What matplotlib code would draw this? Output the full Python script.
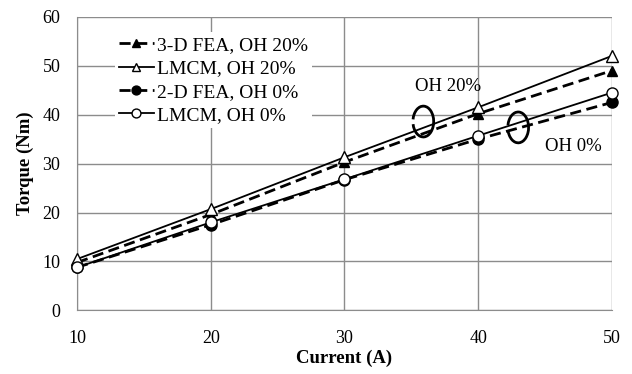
import numpy as np
import matplotlib.pyplot as plt
from matplotlib.patches import Arc

plt.rcParams['font.family'] = ['Liberation Serif', 'DejaVu Serif']

current = [10, 20, 30, 40, 50]
fea3d_oh20 = [9.8, 19.6, 30.3, 40.2, 49.0]
lmcm_oh20 = [10.5, 20.7, 31.3, 41.5, 52.0]
fea2d_oh0 = [8.8, 17.5, 26.7, 35.0, 42.5]
lmcm_oh0 = [8.8, 18.0, 26.8, 35.7, 44.5]

fig, ax = plt.subplots(figsize=(6.32, 3.74), dpi=100)
fig.subplots_adjust(left=0.122, right=0.968, top=0.955, bottom=0.17)

ax.plot(current, fea3d_oh20, color='black', linestyle=(0, (4, 2)), linewidth=2,
        marker='^', markersize=7, markerfacecolor='black', label='3-D FEA, OH 20%', zorder=3)
ax.plot(current, lmcm_oh20, color='black', linestyle='-', linewidth=1.3,
        marker='^', markersize=8, markerfacecolor='white', label='LMCM, OH 20%', zorder=4)
ax.plot(current, fea2d_oh0, color='black', linestyle=(0, (4, 2)), linewidth=2,
        marker='o', markersize=8, markerfacecolor='black', label='2-D FEA, OH 0%', zorder=3)
ax.plot(current, lmcm_oh0, color='black', linestyle='-', linewidth=1.3,
        marker='o', markersize=8, markerfacecolor='white', label='LMCM, OH 0%', zorder=4)

ax.set_xlim(10, 50)
ax.set_ylim(0, 60)
ax.set_xticks([10, 20, 30, 40, 50])
ax.set_yticks(np.arange(0, 61, 10))
ax.grid(True, color='#8c8c8c', linewidth=1)
ax.set_axisbelow(True)
for s in ['top', 'right']:
    ax.spines[s].set_visible(False)
for s in ['left', 'bottom']:
    ax.spines[s].set_color('#8c8c8c')
ax.tick_params(length=0, labelsize=13, pad=14)
ax.tick_params(axis='y', pad=12)
ax.set_xlabel('Current (A)', fontsize=13.5, fontweight='bold', labelpad=2)
ax.set_ylabel('Torque (Nm)', fontsize=13.5, fontweight='bold', labelpad=6)

for ln in ax.lines:
    ln.set_clip_on(False)

leg = ax.legend(loc='upper left', bbox_to_anchor=(0.052, 0.98), frameon=True,
                fontsize=14, handlelength=1.8, handletextpad=0.2,
                labelspacing=0.3, borderpad=0.2, markerscale=0.8)
leg.get_frame().set_edgecolor('none')
leg.get_frame().set_facecolor('white')
leg.get_frame().set_alpha(1)

ax.text(35.3, 45.7, 'OH 20%', fontsize=13.5, ha='left', va='center')
ax.text(49.25, 33.6, 'OH 0%', fontsize=13.5, ha='right', va='center')

ax.add_patch(Arc((35.9, 38.6), 1.55, 6.3, theta1=-145, theta2=150,
                 color='black', linewidth=2, zorder=5))
ax.add_patch(Arc((43.0, 37.4), 1.55, 6.3, theta1=-145, theta2=150,
                 color='black', linewidth=2, zorder=5))

plt.savefig('out.png', dpi=100)
